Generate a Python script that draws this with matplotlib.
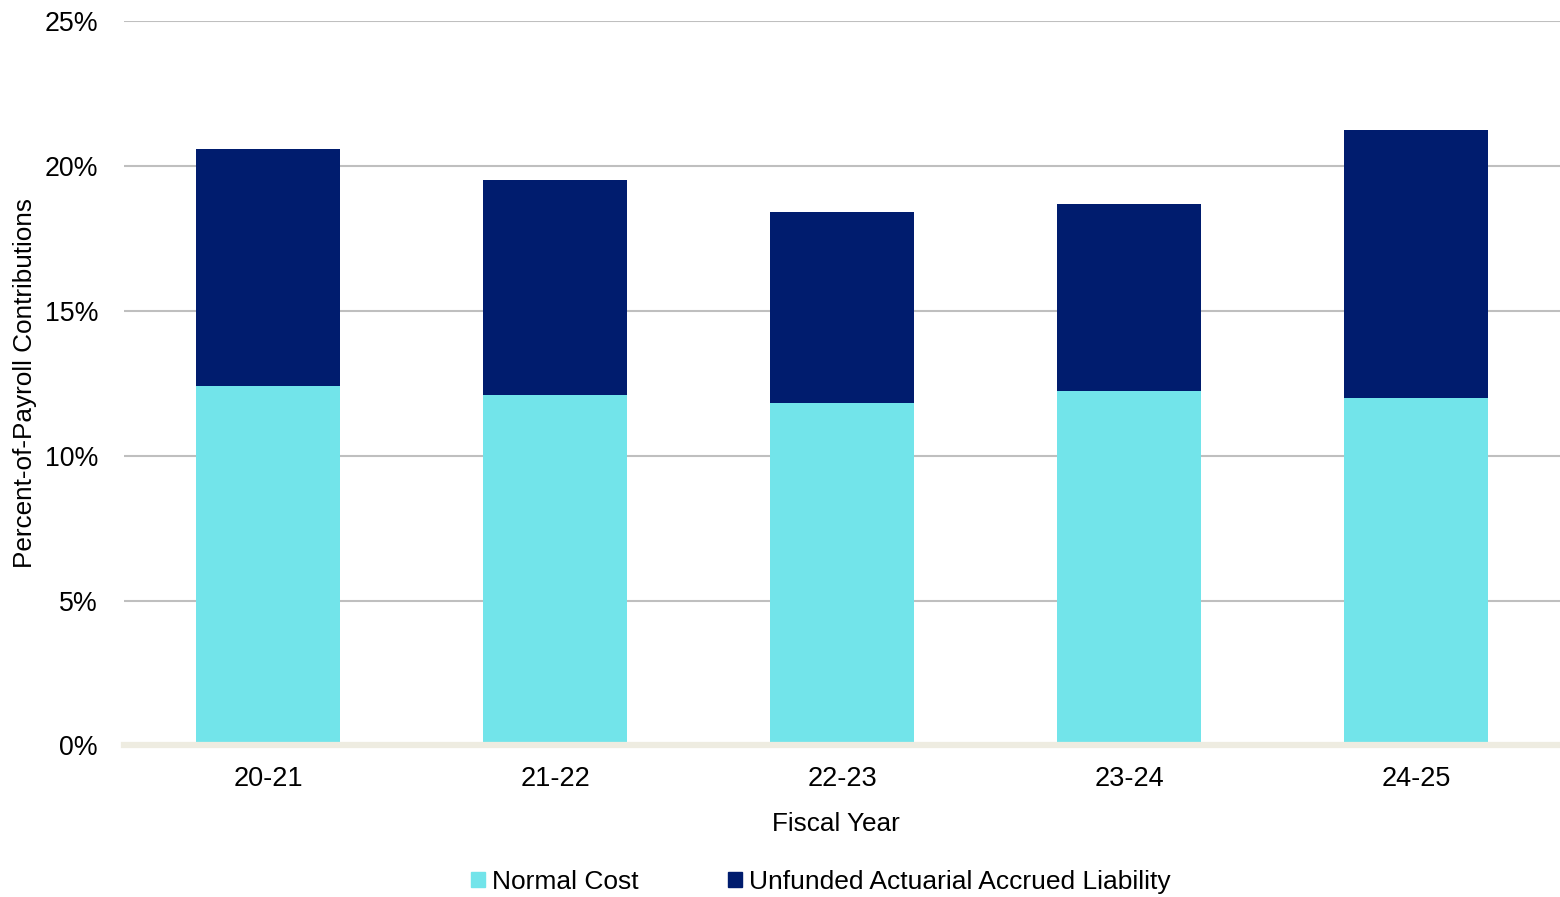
import numpy as np
import matplotlib.pyplot as plt
from matplotlib.patches import Patch

# valores (percentual da folha)
fiscal_years = ['20-21', '21-22', '22-23', '23-24', '24-25']
normal_cost = [12.42, 12.09, 11.81, 12.23, 12.00]
total_rate = [20.58, 19.51, 18.40, 18.68, 21.25]
uaal = [t - n for t, n in zip(total_rate, normal_cost)]

y_ticks = [0, 5, 10, 15, 20, 25]

cor_normal = '#72E4EA'
cor_uaal = '#001C6E'

plt.rcParams['font.family'] = ['Liberation Sans', 'DejaVu Sans']

fig = plt.figure(figsize=(15.6, 8.97), dpi=100)
ax = fig.add_axes([0.0798, 0.1689, 0.9199, 0.8077])

x = np.arange(len(fiscal_years))
ax.bar(x, normal_cost, width=0.5, color=cor_normal, zorder=3)
ax.bar(x, uaal, width=0.5, bottom=normal_cost, color=cor_uaal, zorder=3)

ax.set_xlim(-0.5, len(fiscal_years) - 0.5)
ax.set_ylim(0, 25)
ax.set_yticks(y_ticks)
ax.set_yticklabels([f'{v}%' for v in y_ticks])
ax.set_xticks(x)
ax.set_xticklabels(fiscal_years)

ax.grid(axis='y', color='#BFBFBF', linewidth=1.5, zorder=0)
for s in ['top', 'right', 'left']:
    ax.spines[s].set_visible(False)
ax.spines['bottom'].set_color('#EEECE1')
ax.spines['bottom'].set_linewidth(4.5)
ax.spines['bottom'].set_zorder(4)

ax.tick_params(axis='y', length=0, pad=19, labelsize=19.3)
ax.tick_params(axis='x', length=0, pad=15, labelsize=19.5)

ax.set_xlabel('Fiscal Year', fontsize=18.8, va='center')
ax.xaxis.set_label_coords(0.4958, -0.1086)
ax.set_ylabel('Percent-of-Payroll Contributions', fontsize=18.8, va='center')
ax.yaxis.set_label_coords(-0.0693, 0.5)

handles = [Patch(color=cor_normal, label='Normal Cost'),
           Patch(color=cor_uaal, label='Unfunded Actuarial Accrued Liability')]
fig.legend(handles=handles, loc='center', bbox_to_anchor=(0.526, 0.0167), ncol=2,
           frameon=False, fontsize=19, handlelength=0.53, handleheight=0.53,
           handletextpad=0.25, columnspacing=3.4)

plt.savefig('out.png', dpi=100)
